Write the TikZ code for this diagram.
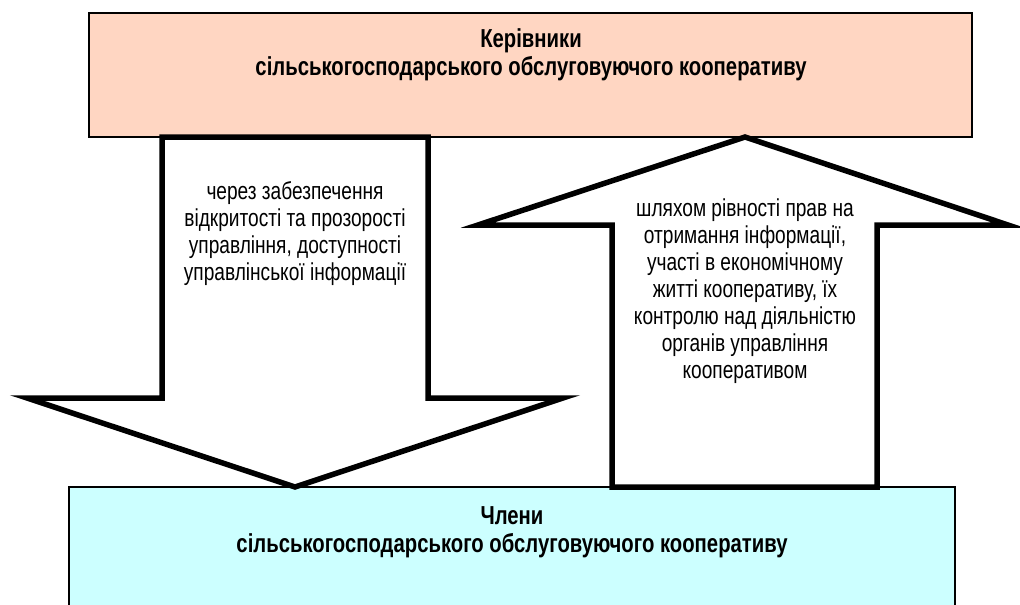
\documentclass[tikz,border=0pt]{standalone}
\usepackage{fontspec}
\newfontfamily\narrowfont[FakeStretch=0.78]{Liberation Sans}
\definecolor{peach}{RGB}{255,214,194}
\definecolor{lightcyan}{RGB}{204,255,255}
\begin{document}
\begin{tikzpicture}[x=1pt,y=-1pt,
  box/.style={draw=black, line width=1.6pt, inner sep=0pt},
  bigarrow/.style={draw=black, line width=5.5pt, fill=white, line join=miter},
  arrowtext/.style={font=\narrowfont\fontsize{24.5}{27}\selectfont, align=center, inner sep=0pt},
  titletext/.style={font=\narrowfont\bfseries\fontsize{26}{28}\selectfont, align=center, inner sep=0pt}]
\useasboundingbox (0,0) rectangle (1020,605);
\fill[white] (0,0) rectangle (1020,605);
% boxes
\node[box, fill=peach, minimum width=883pt, minimum height=124pt] (top) at (530.5,75) {};
\node[box, fill=lightcyan, minimum width=886pt, minimum height=140pt] (bottom) at (512,557) {};
\node[titletext] (toptext) at (531,55) {Керівники\\сільськогосподарського обслуговуючого кооперативу};
\node[titletext] (bottomtext) at (512,532) {Члени\\сільськогосподарського обслуговуючого кооперативу};
% down arrow
\coordinate (dtip) at (295,487);
\draw[bigarrow] (162,137) -- (428,137) -- (428,398) -- (563,398) -- (dtip) -- (27,398) -- (162,398) -- cycle;
\node[arrowtext] (downtext) at (295,234) {через забезпечення\\відкритості та прозорості\\управління, доступності\\управлінської інформації};
% up arrow
\coordinate (utip) at (745,137);
\draw[bigarrow] (utip) -- (1008,225) -- (877,225) -- (877,487) -- (612,487) -- (612,225) -- (478,225) -- cycle;
\node[arrowtext] (uptext) at (745,291) {шляхом рівності прав на\\отримання інформації,\\участі в економічному\\житті кооперативу, їх\\контролю над діяльністю\\органів управління\\кооперативом};
\end{tikzpicture}
\end{document}
